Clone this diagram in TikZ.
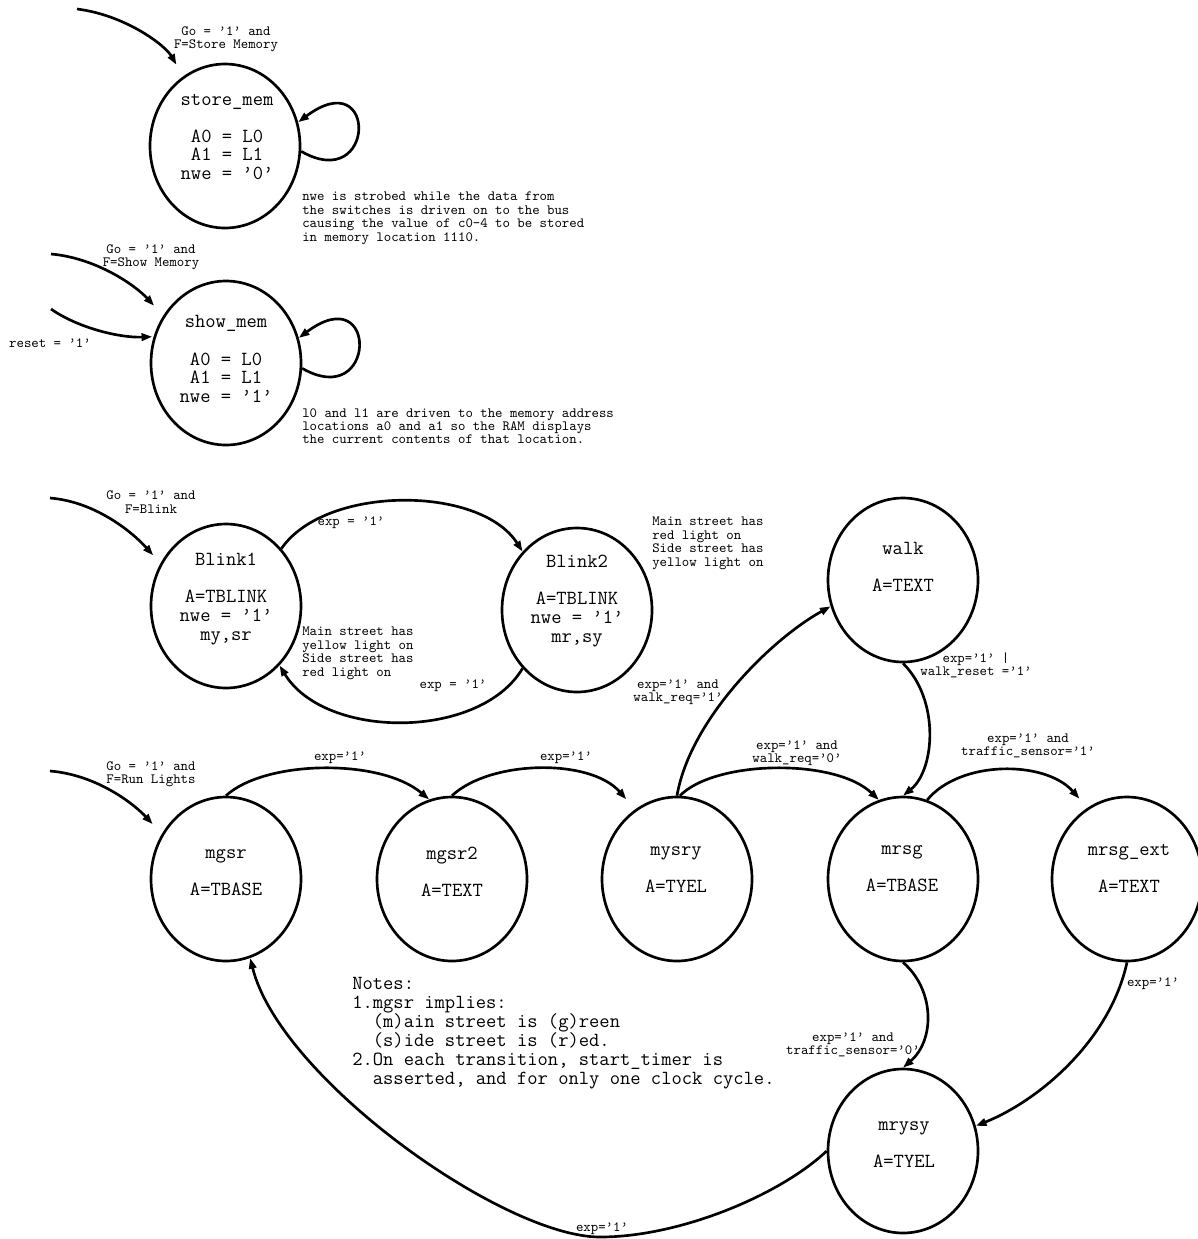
\documentclass[tikz,border=0pt]{standalone}
\usepackage{fontspec}
\usetikzlibrary{arrows.meta,shapes.geometric}
\tikzstyle{state}=[draw, ellipse, line width=2pt, minimum width=112.5pt, minimum height=123pt, inner sep=0pt]
\tikzstyle{statetext}=[align=center, inner sep=0pt, font=\ttfamily\fontsize{15}{13.9}\selectfont]
\tikzstyle{remark}=[align=left, anchor=north west, inner sep=0pt, font=\ttfamily\fontsize{10.6}{10.1}\selectfont]
\tikzstyle{condition}=[align=center, inner sep=0pt, font=\ttfamily\fontsize{10.6}{10.1}\selectfont]
\tikzstyle{transition}=[line width=2pt, -{Triangle[length=8pt,width=5.5pt]}]

\begin{document}
\begin{tikzpicture}[x=0.75pt, y=0.75pt]
    \useasboundingbox (0,0) rectangle (1198,-1239);

    % states
    \node[state] (storemem) at (225,-146) {};
    \node[state] (showmem) at (226,-363) {};
    \node[state] (blink1) at (226,-606) {};
    \node[state] (blink2) at (577,-610) {};
    \node[state] (walk) at (903,-580) {};
    \node[state] (mgsr) at (226,-879) {};
    \node[state] (mgsr2) at (452,-879) {};
    \node[state] (mysry) at (677,-879) {};
    \node[state] (mrsg) at (903,-879) {};
    \node[state] (mrsgext) at (1127,-879) {};
    \node[state] (mrysy) at (903,-1151) {};

    % state contents
    \node[statetext] (storememtext) at (227,-137) {store\_mem\\[13.9pt]A0 = L0\\A1 = L1\\nwe = ’0’};
    \node[statetext] (showmemtext) at (226,-359) {show\_mem\\[13.9pt]A0 = L0\\A1 = L1\\nwe = ’1’};
    \node[statetext] (blink1text) at (226,-599) {Blink1\\[13.9pt]A=TBLINK\\nwe = ’1’\\my,sr};
    \node[statetext] (blink2text) at (577,-601) {Blink2\\[13.9pt]A=TBLINK\\nwe = ’1’\\mr,sy};
    \node[statetext] (walktext) at (903,-567) {walk\\[13.9pt]A=TEXT};
    \node[statetext] (mgsrtext) at (226,-873) {mgsr\\[13.9pt]A=TBASE};
    \node[statetext] (mgsr2text) at (452,-872) {mgsr2\\[13.9pt]A=TEXT};
    \node[statetext] (mysrytext) at (676,-870) {mysry\\[13.9pt]A=TYEL};
    \node[statetext] (mrsgtext) at (902,-869) {mrsg\\[13.9pt]A=TBASE};
    \node[statetext] (mrsgexttext) at (1129,-868) {mrsg\_ext\\[13.9pt]A=TEXT};
    \node[statetext] (mrysytext) at (904,-1145) {mrysy\\[13.9pt]A=TYEL};

    % entry arcs
    \coordinate (storeentry) at (77,-9);
    \coordinate (showentry) at (51,-254);
    \coordinate (resetentry) at (51,-309);
    \coordinate (blinkentry) at (50,-498);
    \coordinate (runentry) at (50,-771);
    \draw[transition, shorten >=10pt] (storeentry) .. controls (125,-15) and (165,-45) .. (storemem.121);
    \draw[transition, shorten >=10pt] (showentry) .. controls (96,-258) and (135,-285) .. (showmem.143);
    \draw[transition, shorten >=1pt] (resetentry) .. controls (78,-328) and (120,-338) .. (showmem.160);
    \draw[transition, shorten >=8pt] (blinkentry) .. controls (98,-502) and (135,-535) .. (blink1.147);
    \draw[transition, shorten >=10pt] (runentry) .. controls (98,-775) and (135,-805) .. (mgsr.145);
    \node[condition] (storecond) at (226,-39) {Go = ’1’ and\\F=Store Memory};
    \node[condition] (showcond) at (151,-257) {Go = ’1’ and\\F=Show Memory};
    \node[condition] (resetcond) at (50,-343) {reset = ’1’};
    \node[condition] (blinkcond) at (151,-502) {Go = ’1’ and\\F=Blink};
    \node[condition] (runcond) at (151,-774) {Go = ’1’ and\\F=Run Lights};

    % self loops
    \draw[transition] (storemem.-4) .. controls +(75,-43) and +(80,60) .. (storemem.18);
    \draw[transition] (showmem.-4) .. controls +(75,-43) and +(80,60) .. (showmem.19);

    % blink arcs
    \draw[transition] (blink1.46) .. controls (325,-485) and (480,-485) .. (blink2.133);
    \draw[transition] (blink2.227) .. controls (480,-740) and (325,-740) .. (blink1.-48);
    \node[condition] (blinkfwd) at (351,-523) {exp = ’1’};
    \node[condition] (blinkback) at (453,-686) {exp = ’1’};

    % run lights arcs
    \draw[transition] (mgsr.90) .. controls (265,-760) and (380,-758) .. (mgsr2.106);
    \draw[transition, shorten >=10pt] (mgsr2.90) .. controls (490,-760) and (590,-758) .. (mysry.121);
    \draw[transition] (mysry.88) .. controls (715,-760) and (835,-758) .. (mrsg.107);
    \draw[transition] (mysry.90) .. controls (690,-720) and (770,-640) .. (walk.200);
    \draw[transition] (walk.-90) .. controls (940,-700) and (935,-770) .. (mrsg.90);
    \draw[transition, shorten >=9pt] (mrsg.73) .. controls (960,-760) and (1045,-760) .. (mrsgext.119);
    \draw[transition] (mrsg.-90) .. controls (935,-990) and (935,-1040) .. (mrysy.90);
    \draw[transition] (mrsgext.-90) .. controls (1110,-1040) and (1040,-1100) .. (mrysy.19);
    \coordinate (arcbottom) at (600,-1237);
    \draw[transition] (mrysy.180) .. controls (780,-1195) and (680,-1237) .. (arcbottom) .. controls (503,-1237) and (280,-1078) .. (mgsr.-73);

    \node[condition] (c12) at (340,-758) {exp=’1’};
    \node[condition] (c23) at (566,-758) {exp=’1’};
    \node[condition] (cwalkin) at (678,-692) {exp=’1’ and\\walk\_req=’1’};
    \node[condition] (c34) at (797,-753) {exp=’1’ and\\walk\_req=’0’};
    \node[condition] (cwalkout) at (976,-665) {exp=’1’ |\\walk\_reset =’1’};
    \node[condition] (c45) at (1028,-746) {exp=’1’ and\\traffic\_sensor=’1’};
    \node[condition] (c46) at (853,-1045) {exp=’1’ and\\traffic\_sensor=’0’};
    \node[condition] (c56) at (1153,-984) {exp=’1’};
    \node[condition] (c61) at (602,-1229) {exp=’1’};

    % remarks
    \node[remark] (storenote) at (302,-192) {nwe is strobed while the data from\\the switches is driven on to the bus\\causing the value of c0-4 to be stored\\in memory location 1110.};
    \node[remark] (shownote) at (302,-408) {l0 and l1 are driven to the memory address\\locations a0 and a1 so the RAM displays\\the current contents of that location.};
    \node[remark] (blink1note) at (302,-627) {Main street has\\yellow light on\\Side street has\\red light on};
    \node[remark] (blink2note) at (652,-517) {Main street has\\red light on\\Side street has\\yellow light on};
    \node[remark, font=\ttfamily\fontsize{15}{14.25}\selectfont] (notes) at (352,-977) {Notes:\\1.mgsr implies:\\\phantom{1.}(m)ain street is (g)reen\\\phantom{1.}(s)ide street is (r)ed.\\2.On each transition, start\_timer is\\\phantom{2.}asserted, and for only one clock cycle.};
\end{tikzpicture}
\end{document}
